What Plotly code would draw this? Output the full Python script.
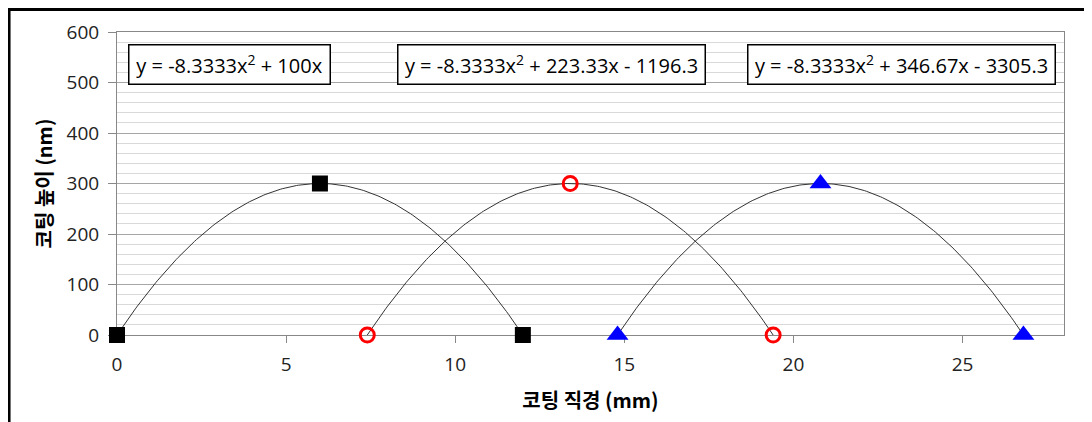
import numpy as np
import plotly.graph_objects as go

# Data
s1_x = [0, 6, 12]
s1_y = [0, 300, 0]
s2_x = [7.4, 13.4, 19.4]
s2_y = [0, 300, 0]
s3_x = [14.8, 20.8, 26.8]
s3_y = [0, 300, 0]
equations = [
    "y = -8.3333x<sup>2</sup> + 100x",
    "y = -8.3333x<sup>2</sup> + 223.33x - 1196.3",
    "y = -8.3333x<sup>2</sup> + 346.67x - 3305.3",
]
x_title = "코팅 직경 (mm)"
y_title = "코팅 높이 (nm)"

KFONT = "Noto Sans CJK KR"
NFONT = "Open Sans"
fig = go.Figure()

series = [
    (s1_x, s1_y, dict(symbol="square", size=16, color="black")),
    (s2_x, s2_y, dict(symbol="circle-open", size=14, color="red", line=dict(width=3, color="red"))),
    (s3_x, s3_y, dict(symbol="triangle-up", size=19, color="blue")),
]

# polynomial trendlines (order 2) fitted through each series
for xs, ys, _ in series:
    c = np.polyfit(xs, ys, 2)
    xx = np.linspace(min(xs), max(xs), 200)
    fig.add_trace(go.Scatter(x=xx, y=np.polyval(c, xx), mode="lines",
                             line=dict(color="#333333", width=1), hoverinfo="skip",
                             showlegend=False))

for xs, ys, m in series:
    fig.add_trace(go.Scatter(x=xs, y=ys, mode="markers", marker=m, showlegend=False,
                             cliponaxis=False))

ann_x = [0.1183, 0.4583, 0.828]
ann_w = [200, 306, 306]
for eq, ax, w in zip(equations, ann_x, ann_w):
    fig.add_annotation(x=ax, y=0.894, xref="paper", yref="paper", text=eq.replace(" ", "&nbsp;"),
                       showarrow=False, font=dict(family=NFONT, size=20, color="black"),
                       bordercolor="black", borderwidth=1.5, borderpad=0,
                       bgcolor="white", width=w, height=38, xanchor="center", yanchor="middle")

# outer frame (left/top visible)
fig.add_shape(type="rect", xref="paper", yref="paper", x0=-0.114, x1=1.06, y0=-0.35, y1=1.074,
              line=dict(color="black", width=3), layer="below")

# page body has an 8px margin, so the figure is offset by 8px right/down
fig.update_layout(
    width=1084, height=414,
    margin=dict(l=109, r=28, t=24, b=87, autoexpand=False),
    paper_bgcolor="white", plot_bgcolor="white",
    font=dict(family=NFONT, size=18, color="#222222"),
    showlegend=False,
)
fig.update_xaxes(range=[0, 28], tickvals=[0, 5, 10, 15, 20, 25], ticks="outside", ticklen=7,
                 tickcolor="#888888", showgrid=False, showline=True, linecolor="#888888",
                 mirror=True, zeroline=False, automargin=False, layer="below traces",
                 ticklabelstandoff=5,
                 title=dict(text="<b>" + x_title + "</b>", font=dict(family=KFONT, size=20, color="black"),
                            standoff=18),
                 tickfont=dict(family=NFONT, size=19, color="#222222"))
fig.update_yaxes(range=[0, 600], dtick=100, ticks="outside", ticklen=8, tickcolor="#888888",
                 showgrid=True, gridcolor="#a6a6a6", gridwidth=1,
                 minor=dict(dtick=20, showgrid=True, gridcolor="#d9d9d9", gridwidth=1),
                 showline=True, linecolor="#888888", mirror=True, zeroline=False, automargin=False,
                 layer="below traces", ticklabelstandoff=5,
                 title=dict(text="<b>" + y_title + "</b>", font=dict(family=KFONT, size=20, color="black"),
                            standoff=8),
                 tickfont=dict(family=NFONT, size=19, color="#222222"))

fig.write_html("out.html")
